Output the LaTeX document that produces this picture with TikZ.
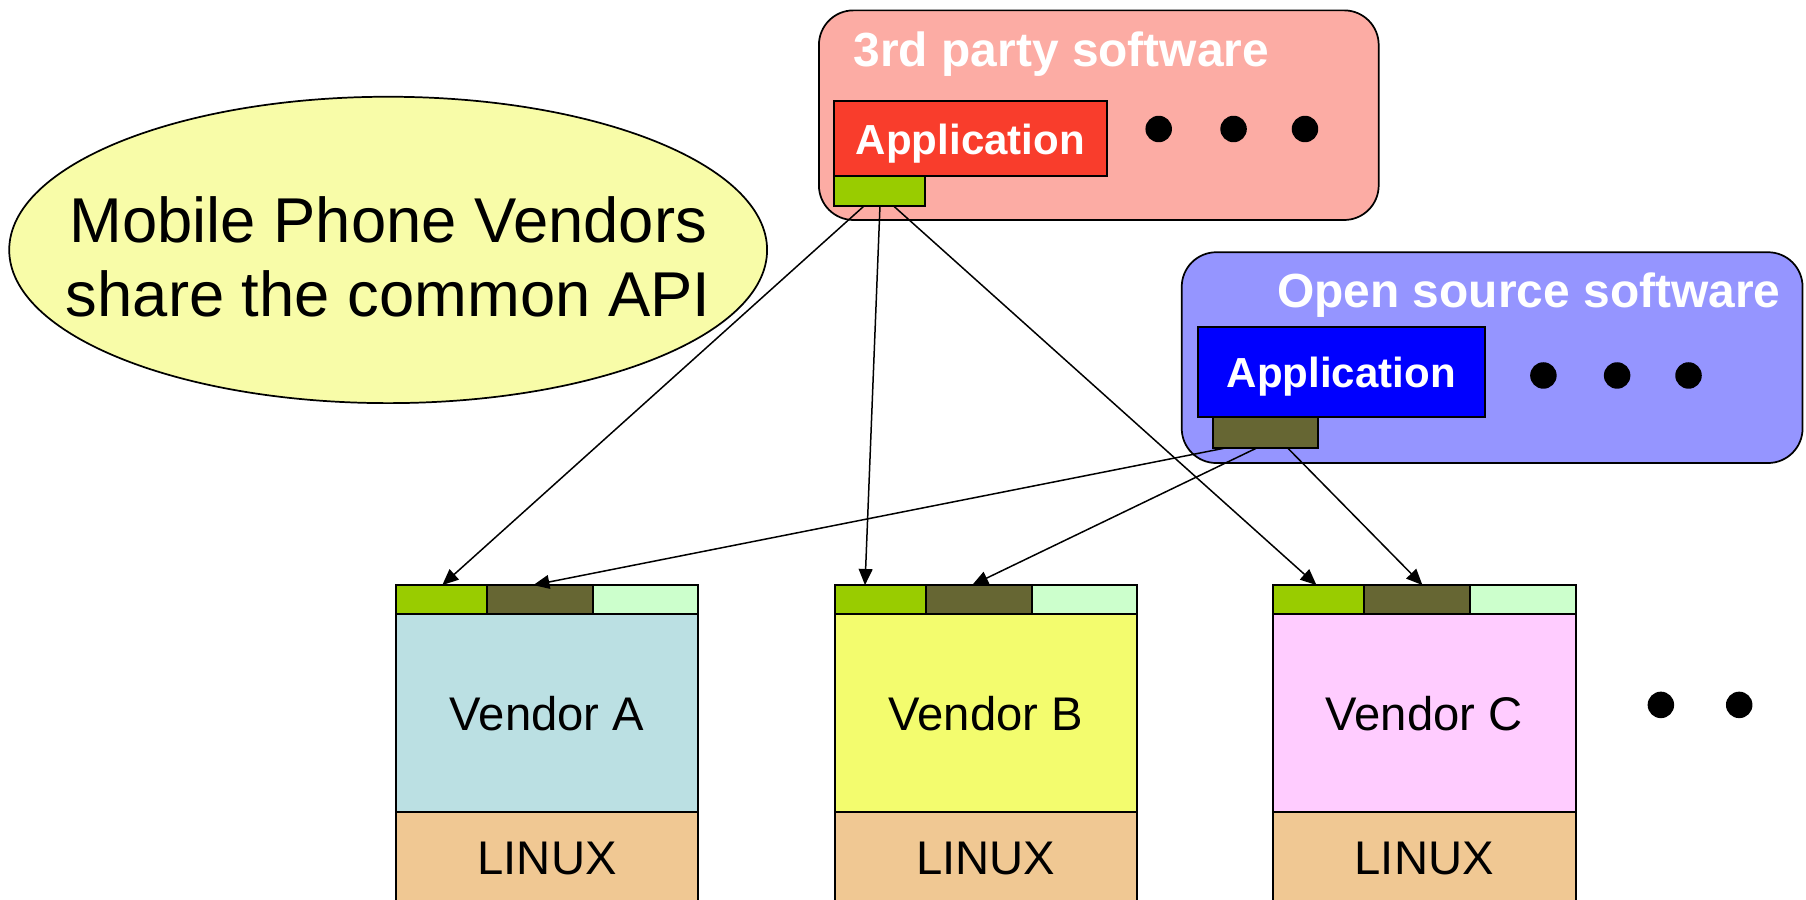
\documentclass[tikz,border=0pt]{standalone}
\usepackage{fontspec}
\setmainfont{Liberation Sans}
\usetikzlibrary{arrows.meta,shapes.geometric}
\definecolor{pinkbg}{HTML}{FCACA4}
\definecolor{appred}{HTML}{F93D2C}
\definecolor{apigreen}{HTML}{99CC00}
\definecolor{lavbg}{HTML}{9595FF}
\definecolor{appblue}{HTML}{0000FF}
\definecolor{apiolive}{HTML}{666633}
\definecolor{apilight}{HTML}{CCFFCC}
\definecolor{venA}{HTML}{BBE0E3}
\definecolor{venB}{HTML}{F3FC6E}
\definecolor{venC}{HTML}{FFCCFF}
\definecolor{linuxc}{HTML}{F0C893}
\definecolor{bubblec}{HTML}{F8FCA8}
\begin{document}
\begin{tikzpicture}[x=1pt,y=-1pt,
  group/.style={draw=black,line width=1.5pt,rounded corners=30pt,inner sep=0pt,outer sep=0pt,anchor=north west},
  grouptitle/.style={text=white,font=\bfseries\fontsize{41.6}{49}\selectfont,inner sep=0pt},
  appbox/.style={draw=black,line width=1.5pt,inner sep=0pt,outer sep=0pt,anchor=north west,text=white,text depth=0pt,font=\bfseries\fontsize{36.5}{44}\selectfont},
  blk/.style={draw=black,line width=1.6pt,inner sep=0pt,outer sep=0pt,anchor=north west},
  vtext/.style={font=\fontsize{41}{49}\selectfont},
  dotnode/.style={circle,fill=black,minimum size=23pt,inner sep=0pt},
  conn/.style={line width=1.3pt,-{Triangle[length=14pt,width=12pt]}}
]
\useasboundingbox (0,0) rectangle (1568,781);
\clip (0,0) rectangle (1568,781);

% bubble
\node[ellipse,draw=black,line width=1.5pt,fill=bubblec,minimum width=658pt,minimum height=266pt,inner sep=0pt] (bubble) at (337,217) {};
\node[align=center,font=\fontsize{55}{65}\selectfont,inner sep=0pt] (bubbletext) at (337,223) {Mobile Phone Vendors\\share the common API};

% 3rd party software
\node[group,fill=pinkbg,minimum width=486pt,minimum height=182pt] (third) at (711,9) {};
\node[grouptitle,anchor=base west] (thirdtitle) at (741,58) {3rd party software};
\node[appbox,fill=appred,minimum width=237pt,minimum height=65pt] (app3) at (724,88) {Application};
\node[blk,fill=apigreen,minimum width=79pt,minimum height=26pt] (api3) at (724,153) {};
\node[dotnode] (d31) at (1006,112) {};
\node[dotnode] (d32) at (1071,112) {};
\node[dotnode] (d33) at (1133,112) {};

% open source software
\node[group,fill=lavbg,minimum width=539pt,minimum height=183pt] (open) at (1026,219) {};
\node[grouptitle,anchor=base east] (opentitle) at (1546,267) {Open source software};
\node[appbox,fill=appblue,minimum width=249pt,minimum height=78pt] (appo) at (1040,284) {Application};
\node[blk,fill=apiolive,minimum width=91pt,minimum height=27pt] (apio) at (1053,362) {};
\node[dotnode] (do1) at (1340,326) {};
\node[dotnode] (do2) at (1404,326) {};
\node[dotnode] (do3) at (1466,326) {};

% vendor A
\node[blk,fill=venA,minimum width=262pt,minimum height=172pt,vtext,text depth=-3pt] (venA) at (344,533) {Vendor A};
\node[blk,fill=linuxc,minimum width=262pt,minimum height=80pt,vtext] (linA) at (344,705) {LINUX};
\node[blk,fill=apigreen,minimum width=79pt,minimum height=25pt] (gA) at (344,508) {};
\node[blk,fill=apiolive,minimum width=92pt,minimum height=25pt] (oA) at (423,508) {};
\node[blk,fill=apilight,minimum width=91pt,minimum height=25pt] (lA) at (515,508) {};

% vendor B
\node[blk,fill=venB,minimum width=262pt,minimum height=172pt,vtext,text depth=-3pt] (venB) at (725,533) {Vendor B};
\node[blk,fill=linuxc,minimum width=262pt,minimum height=80pt,vtext] (linB) at (725,705) {LINUX};
\node[blk,fill=apigreen,minimum width=79pt,minimum height=25pt] (gB) at (725,508) {};
\node[blk,fill=apiolive,minimum width=92pt,minimum height=25pt] (oB) at (804,508) {};
\node[blk,fill=apilight,minimum width=91pt,minimum height=25pt] (lB) at (896,508) {};

% vendor C
\node[blk,fill=venC,minimum width=263pt,minimum height=172pt,vtext,text depth=-3pt] (venC) at (1105,533) {Vendor C};
\node[blk,fill=linuxc,minimum width=263pt,minimum height=80pt,vtext] (linC) at (1105,705) {LINUX};
\node[blk,fill=apigreen,minimum width=79pt,minimum height=25pt] (gC) at (1105,508) {};
\node[blk,fill=apiolive,minimum width=92pt,minimum height=25pt] (oC) at (1184,508) {};
\node[blk,fill=apilight,minimum width=92pt,minimum height=25pt] (lC) at (1276,508) {};

% more vendors
\node[dotnode] (dv1) at (1442,612) {};
\node[dotnode] (dv2) at (1510,612) {};

% connectors
\draw[conn] ([xshift=26pt]api3.south west) -- ([xshift=40pt]gA.north west);
\draw[conn] ([xshift=40pt]api3.south west) -- ([xshift=26pt]gB.north west);
\draw[conn] ([xshift=52pt]api3.south west) -- ([xshift=38pt]gC.north west);
\draw[conn] ([xshift=10.6pt]apio.south west) -- ([xshift=40pt]oA.north west);
\draw[conn] ([xshift=38pt]apio.south west) -- ([xshift=40pt]oB.north west);
\draw[conn] ([xshift=65pt]apio.south west) -- ([xshift=51pt]oC.north west);
\end{tikzpicture}
\end{document}
